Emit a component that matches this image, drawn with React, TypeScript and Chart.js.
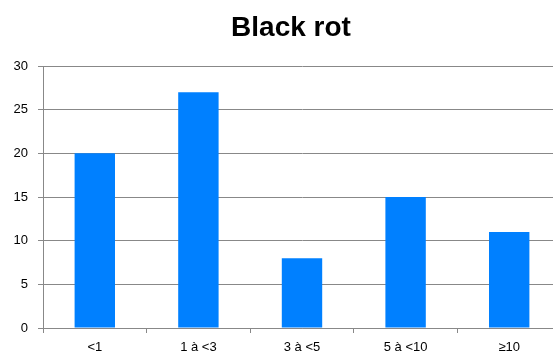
import React, { useEffect, useRef } from "react";
import { Chart, registerables } from "chart.js";

Chart.register(...registerables);

const categories = ["<1", "1 à <3", "3 à <5", "5 à <10", "≥10"];
const values = [20, 27, 8, 15, 11];
const title = "Black rot";

const shiftTitle = {
  id: "shiftTitle",
  afterLayout(chart: any) {
    if (chart.titleBlock) {
      chart.titleBlock.left = 21;
      chart.titleBlock.right = 561;
    }
  },
};

export default function App() {
  const ref = useRef<HTMLCanvasElement | null>(null);
  useEffect(() => {
    if (!ref.current) return;
    const chart = new Chart(ref.current, {
      type: "bar",
      data: {
        labels: categories,
        datasets: [
          {
            data: values,
            backgroundColor: "#0080FF",
            borderWidth: 0,
            categoryPercentage: 1,
            barPercentage: 0.39,
          },
        ],
      },
      plugins: [shiftTitle],
      options: {
        animation: false,
        responsive: false,
        maintainAspectRatio: false,
        layout: { padding: { left: 0, right: 21, top: 0, bottom: 0 } },
        plugins: {
          legend: { display: false },
          tooltip: { enabled: false },
          title: {
            display: true,
            text: title,
            color: "#000",
            font: { family: "Liberation Sans, Arial, sans-serif", size: 28, weight: "bold" },
            padding: { top: 11.6, bottom: 20.8 },
          },
        },
        scales: {
          x: {
            offset: true,
            grid: {
              offset: true,
              drawOnChartArea: false,
              drawTicks: true,
              tickLength: 5,
              color: "#888",
            },
            border: { color: "#888", width: 1 },
            ticks: {
              color: "#000",
              font: { family: "Liberation Sans, Arial, sans-serif", size: 13 },
              padding: 7,
              maxRotation: 0,
            },
            afterFit: (s: any) => {
              s.height = 26;
            },
          },
          y: {
            min: 0,
            max: 30,
            ticks: {
              stepSize: 5,
              color: "#000",
              font: { family: "Liberation Sans, Arial, sans-serif", size: 13 },
              padding: 10,
            },
            grid: { color: "#888", lineWidth: 1, tickLength: 5 },
            border: { color: "#888", width: 1 },
            afterFit: (s: any) => {
              s.width = 43;
            },
          },
        },
      },
    });
    return () => chart.destroy();
  }, []);
  return (
    <div style={{ position: "fixed", left: 0, top: 0, width: 582, height: 354, background: "#fff" }}>
      <canvas ref={ref} width={582} height={354} style={{ display: "block" }} />
    </div>
  );
}
